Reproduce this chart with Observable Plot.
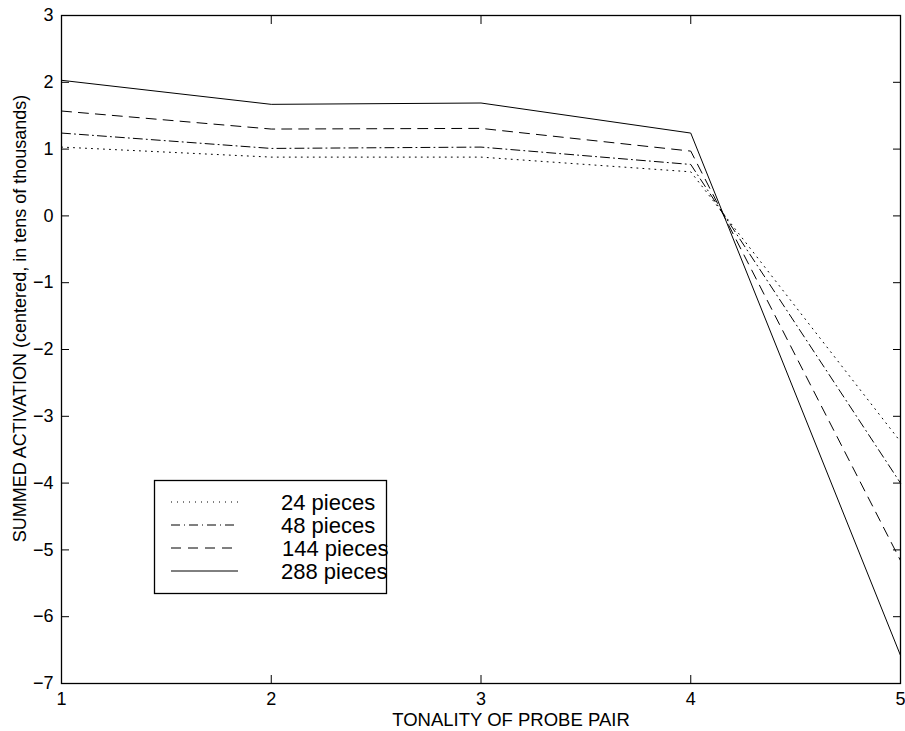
<!DOCTYPE html>
<html>
<head>
<meta charset="utf-8">
<script src="https://cdn.jsdelivr.net/npm/d3@7"></script>
<script src="https://cdn.jsdelivr.net/npm/@observablehq/plot@0.6"></script>
<style>
  html, body { margin: 0; padding: 0; background: #fff; }
  #wrap { position: relative; width: 905px; height: 731px; }
  #legend { position: absolute; left: 154px; top: 480px; overflow: visible; }
  svg { overflow: visible; }
</style>
</head>
<body>
<div id="wrap"></div>
<script>
const tonality = [1, 2, 3, 4, 5];
const pieces24 = [1.03, 0.88, 0.88, 0.66, -3.38];
const pieces48 = [1.24, 1.01, 1.03, 0.77, -4.0];
const pieces144 = [1.57, 1.30, 1.31, 0.97, -5.16];
const pieces288 = [2.03, 1.67, 1.69, 1.24, -6.58];
const seriesNames = ["24 pieces", "48 pieces", "144 pieces", "288 pieces"];
const seriesValues = [pieces24, pieces48, pieces144, pieces288];
const dashes = ["1,5", "9,4,1,4", "10,7", null];
const xTicks = [1, 2, 3, 4, 5];
const yTicks = [-7, -6, -5, -4, -3, -2, -1, 0, 1, 2, 3];
const xLabel = "TONALITY OF PROBE PAIR";
const yLabel = "SUMMED ACTIVATION (centered, in tens of thousands)";

const font = "'Liberation Sans', Arial, Helvetica, sans-serif";
const fmt = d => (d < 0 ? "\u2212" : "") + Math.abs(d);

const lineMarks = seriesValues.map((vals, i) =>
  Plot.line(tonality.map((t, j) => ({x: t, y: vals[j]})), {
    x: "x", y: "y", stroke: "black", strokeWidth: 1,
    strokeDasharray: dashes[i] ?? undefined
  })
);

const chart = Plot.plot({
  width: 905,
  height: 731,
  marginLeft: 61,
  marginRight: 5,
  marginTop: 15,
  marginBottom: 48,
  style: {fontFamily: font, fontSize: "18px", color: "black", background: "white"},
  x: {domain: [1, 5]},
  y: {domain: [-7, 3]},
  marks: [
    ...lineMarks,
    Plot.text(xTicks, {x: d => d, frameAnchor: "bottom", dy: 9, lineAnchor: "top", textAnchor: "middle", fontSize: 18, text: fmt}),
    Plot.text(yTicks, {y: d => d, frameAnchor: "left", dx: -8, lineAnchor: "middle", textAnchor: "end", fontSize: 18, text: fmt}),
    Plot.axisX(xTicks, {anchor: "bottom", tickSize: -8, tickFormat: () => "", label: null}),
    Plot.axisX(xTicks, {anchor: "top", tickSize: -8, tickFormat: () => "", label: null}),
    Plot.axisY(yTicks, {anchor: "left", tickSize: -8, tickFormat: () => "", label: null}),
    Plot.axisY(yTicks, {anchor: "right", tickSize: -8, tickFormat: () => "", label: null}),
    Plot.frame({stroke: "black", strokeWidth: 1.3}),
    Plot.text([xLabel], {frameAnchor: "bottom", dx: 30, dy: 37, text: d => d, fontSize: 18.5, lineAnchor: "middle", textAnchor: "middle"}),
    Plot.text([yLabel], {frameAnchor: "left", dx: -41, dy: -31, rotate: -90, text: d => d, fontSize: 18, lineAnchor: "middle", textAnchor: "middle"})
  ]
});

const wrap = document.getElementById("wrap");
wrap.appendChild(chart);

// Legend overlay
const legW = 233, legH = 114;
const leg = d3.create("svg")
  .attr("id", "legend")
  .attr("width", legW)
  .attr("height", legH)
  .style("font-family", font);
leg.append("rect")
  .attr("x", 0.5).attr("y", 0.5)
  .attr("width", legW - 1).attr("height", legH - 1)
  .attr("fill", "white").attr("stroke", "black").attr("stroke-width", 1.3);
const rowY0 = 22, rowStep = 23;
seriesNames.forEach((name, i) => {
  const y = rowY0 + i * rowStep;
  leg.append("line")
    .attr("x1", 17).attr("x2", 84)
    .attr("y1", y).attr("y2", y)
    .attr("stroke", "black").attr("stroke-width", 1)
    .attr("stroke-dasharray", dashes[i]);
  leg.append("text")
    .attr("x", name.startsWith("144") ? 128 : 127)
    .attr("y", y + 8)
    .attr("font-size", 22)
    .attr("fill", "black")
    .text(name);
});
wrap.appendChild(leg.node());
</script>
</body>
</html>
